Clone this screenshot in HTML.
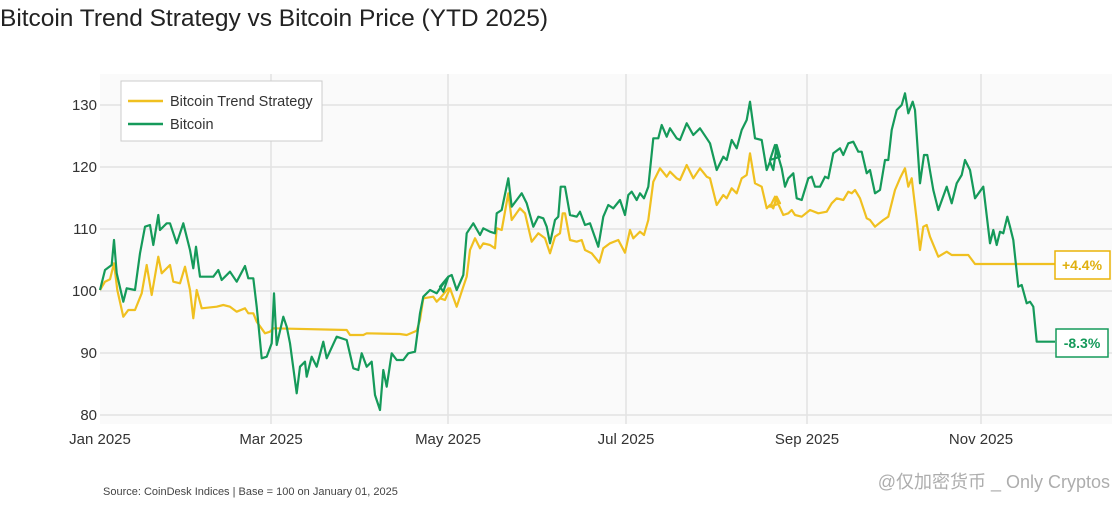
<!DOCTYPE html>
<html><head><meta charset="utf-8"><style>
body{margin:0;background:#fff;width:1120px;height:504px;overflow:hidden;font-family:"Liberation Sans","Noto Sans CJK SC",sans-serif}
</style></head><body>
<svg id="s" width="1120" height="504" xmlns="http://www.w3.org/2000/svg" font-family="Liberation Sans, Noto Sans CJK SC, sans-serif">
<text x="0" y="26" font-size="24.5" fill="#222" textLength="548">Bitcoin Trend Strategy vs Bitcoin Price (YTD 2025)</text>
<rect x="100" y="74" width="1012" height="350" fill="#fafafa"/>
<g stroke="#e2e2e2" stroke-width="1.5">
<line x1="100" x2="1112" y1="105" y2="105"/><line x1="100" x2="1112" y1="167" y2="167"/><line x1="100" x2="1112" y1="229" y2="229"/><line x1="100" x2="1112" y1="291" y2="291"/><line x1="100" x2="1112" y1="353" y2="353"/><line x1="100" x2="1112" y1="415" y2="415"/>
<line x1="271" x2="271" y1="74" y2="424"/><line x1="448" x2="448" y1="74" y2="424"/><line x1="626" x2="626" y1="74" y2="424"/><line x1="807" x2="807" y1="74" y2="424"/><line x1="981" x2="981" y1="74" y2="424"/>
</g>
<g font-size="15" fill="#333" text-anchor="end">
<text x="97" y="110">130</text><text x="97" y="172">120</text><text x="97" y="234">110</text><text x="97" y="296">100</text><text x="97" y="358">90</text><text x="97" y="420">80</text>
</g>
<g font-size="15" fill="#333" text-anchor="middle">
<text x="100" y="444">Jan 2025</text><text x="271" y="444">Mar 2025</text><text x="448" y="444">May 2025</text><text x="626" y="444">Jul 2025</text><text x="807" y="444">Sep 2025</text><text x="981" y="444">Nov 2025</text>
</g>
<g id="lines"></g>
<rect x="121" y="81" width="201" height="60" fill="#fff" stroke="#ccc"/>
<line x1="128" x2="163" y1="101" y2="101" stroke="#f0c020" stroke-width="2.5"/>
<line x1="128" x2="163" y1="124" y2="124" stroke="#159a5a" stroke-width="2.5"/>
<text x="170" y="106" font-size="14.5" fill="#333">Bitcoin Trend Strategy</text>
<text x="170" y="129" font-size="14.5" fill="#333">Bitcoin</text>
<rect x="1055" y="251" width="55" height="28" fill="#fff" stroke="#eab308" stroke-width="1.5"/>
<text x="1082" y="270" font-size="14" font-weight="bold" fill="#e0b010" text-anchor="middle">+4.4%</text>
<rect x="1056" y="329" width="52" height="28" fill="#fff" stroke="#159a5a" stroke-width="1.5"/>
<text x="1082" y="348" font-size="14" font-weight="bold" fill="#159a5a" text-anchor="middle">-8.3%</text>
<text x="103" y="495" font-size="11" fill="#444">Source: CoinDesk Indices | Base = 100 on January 01, 2025</text>
<text x="1110" y="488" font-size="18" fill="#999" text-anchor="end" opacity="0.8">@仅加密货币 _ Only Cryptos</text>
</svg>
<script>
function cv(o,a){var r=[];for(var i=0;i<a.length;i+=2)r.push((o[0]+a[i]/3).toFixed(1)+","+(o[1]+a[i+1]/3).toFixed(1));return r;}
var g1=[30,630,45,570,65,555,72,480,80,580,100,665,110,625,135,630,150,520,165,440,180,435,190,495,205,405,210,450,230,430,240,430,260,490,280,430,300,510,310,565,318,500,330,590,370,590,385,570,395,600,420,575,440,605,465,558,475,595,490,595,500,680,515,835,530,830,545,790,552,640,560,795,580,710,590,740,600,790,620,940,630,860,645,845,650,890,665,830,680,860,700,785,710,835,740,770,770,780,790,865,805,870,815,820,830,860,845,845,855,945,870,990,880,870,890,920,905,820,920,840,940,840,955,820,975,815,990,700,1000,650,1020,630,1040,640,1050,625,1075,590];
var y1=[30,630,45,605,60,598,72,550,82,630,100,710,115,690,135,690,155,640,170,555,185,645,205,530,215,580,240,555,250,605,270,610,285,560,300,630,310,715,320,630,335,685,380,680,400,675,420,680,440,695,465,685,475,700,490,700,500,725,525,760,540,755,550,745,770,750,780,765,820,765,830,760,930,762,950,765,980,752,990,720,1000,655,1030,650,1040,665,1050,655,1075,625];
var g2=[0,620,10,635,25,590,35,585,50,630,70,585,80,460,100,430,120,465,130,445,150,455,165,460,170,400,185,390,205,295,215,380,230,360,245,340,260,370,280,440,295,410,310,415,320,440,330,490,345,420,355,410,362,320,375,320,390,405,410,410,420,395,435,435,450,430,475,500,490,410,505,375,520,385,540,360,555,405,565,345,575,335,590,360,600,340,612,355,625,320,640,175,655,175,665,135,680,170,690,145,710,175,720,180,740,130,760,165,780,145,800,175,810,190,830,270,850,230,860,240,875,180,890,205,905,150,920,120,930,65,945,175,965,180,980,270,990,245,1000,270,1010,195,1020,230];
var y2=[0,655,15,660,30,625,50,680,70,620,80,590,90,510,105,475,120,505,130,490,150,495,165,505,170,445,185,450,205,340,215,420,240,385,255,400,275,485,295,460,315,475,330,520,345,470,360,460,368,400,375,400,390,480,410,485,425,480,435,510,455,520,478,548,490,505,510,490,535,480,555,518,570,450,580,475,600,455,612,465,625,420,640,305,660,265,680,290,690,275,710,295,720,300,740,255,760,295,780,265,800,290,810,295,830,375,850,345,860,355,875,325,890,340,905,295,920,285,930,220,945,310,965,320,980,385,990,375,1000,385,1010,350,1020,370];
var g3=[0,240,15,195,35,265,45,320,55,295,70,280,80,355,95,360,115,295,125,290,135,320,150,320,165,290,175,295,190,220,210,205,220,225,235,190,250,185,265,215,275,215,290,280,300,270,315,340,330,330,345,240,355,240,365,150,380,90,395,75,405,40,415,100,428,65,435,90,450,310,462,225,472,225,490,330,505,390,530,320,545,370,560,310,575,285,585,240,600,270,615,355,640,320,660,490,670,450,680,495,690,455,700,460,712,410,720,440,730,480,745,620,755,615,770,670,780,665,790,680,800,785,855,785];
var y3=[0,380,15,350,40,405,55,400,65,390,75,405,95,410,120,390,145,400,170,395,185,370,200,355,220,360,235,335,245,340,255,330,270,355,290,415,300,420,315,440,340,420,355,410,375,330,390,295,405,265,415,320,425,295,440,420,450,510,460,440,470,435,480,470,505,530,530,515,545,525,595,525,615,552,855,552];
var Y=cv([90,80],y1).concat(cv([440,80],y2),cv([770,80],y3));
var G=cv([90,80],g1).concat(cv([440,80],g2),cv([770,80],g3));
document.getElementById("lines").innerHTML='<polyline fill="none" stroke="#f0c020" stroke-width="2.2" stroke-linejoin="round" points="'+Y.join(" ")+'"/><polyline fill="none" stroke="#159a5a" stroke-width="2.2" stroke-linejoin="round" points="'+G.join(" ")+'"/>';
</script>
</body></html>
